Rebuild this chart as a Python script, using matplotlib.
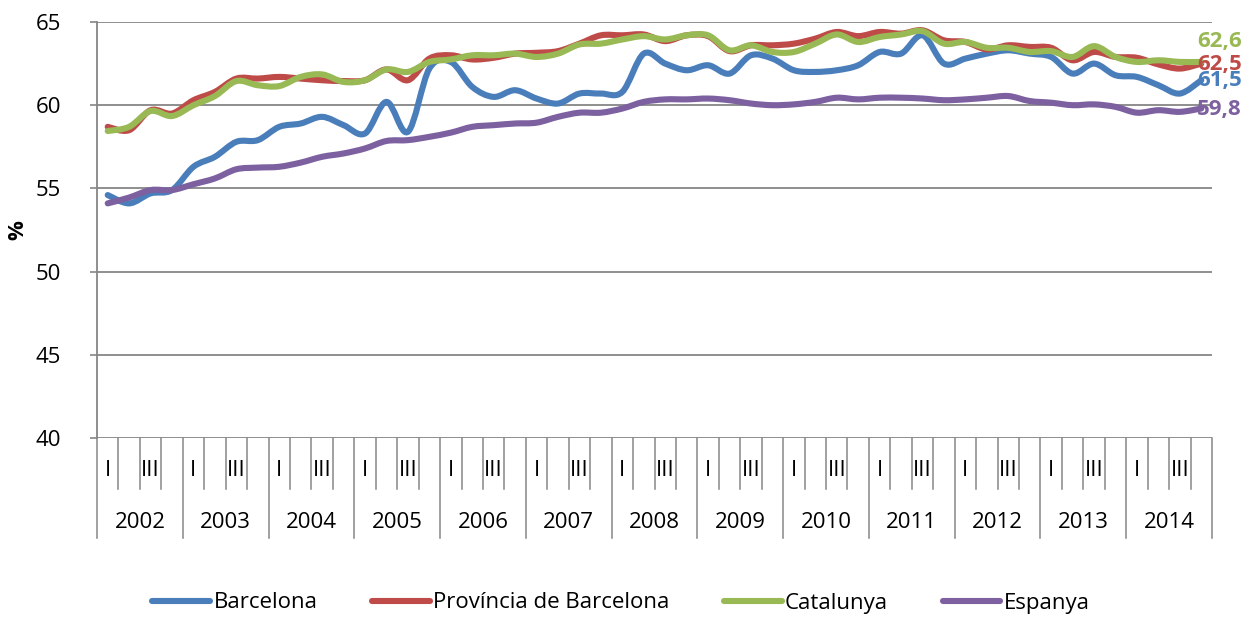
import matplotlib
matplotlib.use("Agg")
import matplotlib.pyplot as plt
from matplotlib.path import Path
from matplotlib.patches import PathPatch
from matplotlib.lines import Line2D
from matplotlib.transforms import blended_transform_factory
import numpy as np

# Quarterly activity rate (%), 2002-2014
years = [str(y) for y in range(2002, 2015)]
quarter_labels = ["I", "", "III", ""]

barcelona = [54.6, 54.1, 54.7, 54.9, 56.3, 56.9, 57.8, 57.9, 58.7,
             58.9, 59.3, 58.8, 58.3, 60.2, 58.4, 62.2, 62.6, 61.1,
             60.5, 60.9, 60.4, 60.1, 60.7, 60.7, 60.8, 63.1, 62.5,
             62.1, 62.4, 61.9, 63.0, 62.8, 62.1, 62.0, 62.1, 62.4,
             63.2, 63.1, 64.2, 62.5, 62.8, 63.1, 63.3, 63.1, 62.9,
             61.9, 62.5, 61.8, 61.7, 61.2, 60.7, 61.5]
provincia = [58.7, 58.5, 59.7, 59.5, 60.3, 60.8, 61.6, 61.6, 61.7,
             61.6, 61.5, 61.45, 61.5, 62.15, 61.5, 62.8, 63.0, 62.75,
             62.85, 63.1, 63.15, 63.25, 63.7, 64.2, 64.2, 64.25, 63.85,
             64.2, 64.15, 63.25, 63.6, 63.6, 63.7, 64.0, 64.4, 64.15,
             64.4, 64.3, 64.5, 63.9, 63.8, 63.35, 63.6, 63.5, 63.45,
             62.7, 63.2, 62.9, 62.85, 62.45, 62.2, 62.5]
catalunya = [58.45, 58.7, 59.65, 59.35, 60.0, 60.55, 61.45, 61.2, 61.15,
             61.7, 61.85, 61.4, 61.5, 62.15, 62.0, 62.6, 62.75, 63.0,
             63.0, 63.1, 62.9, 63.1, 63.65, 63.7, 63.95, 64.15, 63.95,
             64.2, 64.2, 63.3, 63.6, 63.2, 63.2, 63.7, 64.25, 63.8,
             64.1, 64.25, 64.45, 63.7, 63.8, 63.45, 63.45, 63.2, 63.25,
             62.9, 63.55, 62.9, 62.6, 62.7, 62.6, 62.6]
espanya = [54.1, 54.45, 54.9, 54.9, 55.25, 55.6, 56.15, 56.25, 56.3,
           56.55, 56.9, 57.1, 57.4, 57.85, 57.9, 58.1, 58.35, 58.7,
           58.8, 58.9, 58.95, 59.3, 59.55, 59.55, 59.8, 60.2, 60.35,
           60.35, 60.4, 60.3, 60.1, 60.0, 60.05, 60.2, 60.45, 60.35,
           60.45, 60.45, 60.4, 60.3, 60.35, 60.45, 60.55, 60.25, 60.15,
           60.0, 60.05, 59.9, 59.55, 59.7, 59.6, 59.8]

series_names = ["Barcelona", "Província de Barcelona", "Catalunya", "Espanya"]
series_values = [barcelona, provincia, catalunya, espanya]
colors = ["#4A7EBB", "#BE4B48", "#98B954", "#7D60A0"]
# vertical offsets (points) for the end-value labels so they don't collide
label_offsets = [-0.5, -1, 14.5, -1]

plt.rcParams['font.family'] = ['Open Sans', 'DejaVu Sans']
FS = 16

fig = plt.figure(figsize=(12.52, 6.17), dpi=100)
ax = fig.add_axes([97 / 1252, 1 - 438 / 617, (1212 - 97) / 1252, (438 - 22) / 617])

n = len(barcelona)
xs = np.arange(n) + 0.5


def smooth_path(x, y):
    """Cubic Bezier path through the points (Catmull-Rom style tangents)."""
    pts = np.column_stack([x, y])
    ext = np.vstack([pts[0], pts, pts[-1]])
    verts = [tuple(pts[0])]
    codes = [Path.MOVETO]
    for i in range(len(pts) - 1):
        p0, p1, p2, p3 = ext[i], ext[i + 1], ext[i + 2], ext[i + 3]
        c1 = p1 + (p2 - p0) / 6.0
        c2 = p2 - (p3 - p1) / 6.0
        verts += [tuple(c1), tuple(c2), tuple(p2)]
        codes += [Path.CURVE4] * 3
    return Path(verts, codes)


for vals, col in zip(series_values, colors):
    patch = PathPatch(smooth_path(xs, vals), facecolor="none", edgecolor=col,
                      lw=4.4, capstyle="round", joinstyle="round", zorder=3)
    ax.add_patch(patch)

for vals, col, off in zip(series_values, colors, label_offsets):
    ax.annotate(f"{vals[-1]:.1f}".replace(".", ","), (xs[-1], vals[-1]),
                xytext=(-3, off), textcoords="offset points",
                ha="left", va="center", fontsize=FS, fontweight="bold",
                color=col, zorder=4, annotation_clip=False)

ax.set_xlim(0, n)
ax.set_ylim(40, 65)
ax.set_yticks(range(40, 66, 5))
ax.tick_params(axis="y", labelsize=FS, length=5, width=1.2, color="#868686",
               pad=21)
ax.set_xticks([])
ax.grid(axis="y", color="#868686", lw=1.3)
ax.set_axisbelow(True)
for side in ["top", "right", "bottom"]:
    ax.spines[side].set_visible(False)
ax.spines["left"].set_color("#868686")
ax.spines["left"].set_linewidth(1.3)

# two-level category axis: quarters and years
tr = blended_transform_factory(ax.transData, ax.transAxes)
h = 416.0
q_tick = -51 / h
y_tick = -100 / h
for k in range(n + 1):
    bottom = y_tick if k % 4 == 0 else q_tick
    ax.plot([k, k], [0, bottom], transform=tr, color="#868686", lw=1.1,
            clip_on=False, zorder=1)
for k in range(n):
    lab = quarter_labels[k % 4]
    if lab:
        ax.text(k + 0.5, -32 / h, lab, transform=tr, ha="center", va="center",
                fontsize=FS, clip_on=False)
for j, yr in enumerate(years):
    ax.text(4 * j + 2, -85 / h, yr, transform=tr, ha="center", va="center",
            fontsize=FS, clip_on=False)

fig.text(18 / 1252, 1 - 230 / 617, "%", rotation=90, ha="center", va="center",
         fontsize=FS, fontweight="bold")

handles = [Line2D([], [], color=c, lw=4.4, solid_capstyle="round") for c in colors]
fig.legend(handles, series_names, loc="center", ncol=4,
           bbox_to_anchor=(621 / 1252, 1 - 603 / 617), frameon=False,
           fontsize=FS, handlelength=2.6, handletextpad=0.15,
           columnspacing=2.45)

fig.savefig("out.png", dpi=100)
